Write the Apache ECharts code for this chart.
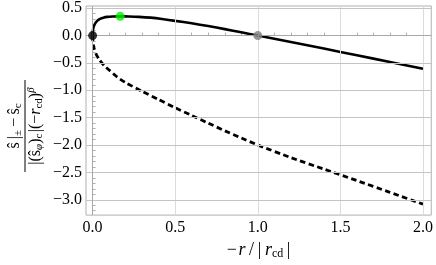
<!DOCTYPE html>
<html>
<head>
<meta charset="utf-8">
<script src="https://cdn.jsdelivr.net/npm/echarts@6/dist/echarts.min.js"></script>
<style>
html,body{margin:0;padding:0;background:#fff;}
#chart{width:436px;height:265px;}
</style>
</head>
<body>
<div id="chart"></div>
<script>
// ---- data ----
const upperX = [0, 0.0005, 0.002, 0.005, 0.01, 0.018, 0.03, 0.045, 0.065, 0.09, 0.12, 0.167, 0.22, 0.28, 0.35, 0.42, 0.5, 0.6, 0.7, 0.8, 0.9, 1.0, 1.2, 1.4, 1.6, 1.8, 2.0];
const upperY = [0, 0.06, 0.10, 0.145, 0.19, 0.235, 0.275, 0.305, 0.327, 0.341, 0.348, 0.351, 0.349, 0.342, 0.327, 0.303, 0.268, 0.224, 0.173, 0.118, 0.06, 0, -0.118, -0.238, -0.36, -0.482, -0.605];
const lowerX = [0, 0.002, 0.008, 0.02, 0.04, 0.07, 0.1, 0.15, 0.2, 0.3, 0.4, 0.5, 0.6, 0.7, 0.8, 0.9, 1.0, 1.2, 1.4, 1.6, 1.8, 2.0];
const lowerY = [0, -0.12, -0.22, -0.33, -0.44, -0.55, -0.63, -0.76, -0.86, -1.02, -1.17, -1.32, -1.46, -1.60, -1.74, -1.87, -2.0, -2.23, -2.44, -2.65, -2.865, -3.08];
const pointX = [0, 0.167, 1.0];
const pointY = [0, 0.351, 0];
const pointColors = ['#000000', '#00ee00', '#808080'];
const xTicks = [0, 0.5, 1.0, 1.5, 2.0];
const yTicks = [0.5, 0, -0.5, -1.0, -1.5, -2.0, -2.5, -3.0];
const xMinorTicks = [0.1, 0.2, 0.3, 0.4, 0.6, 0.7, 0.8, 0.9, 1.1, 1.2, 1.3, 1.4, 1.6, 1.7, 1.8, 1.9];
const yMinorTicks = [0.4, 0.3, 0.2, 0.1, -0.1, -0.2, -0.3, -0.4, -0.6, -0.7, -0.8, -0.9, -1.1, -1.2, -1.3, -1.4, -1.6, -1.7, -1.8, -1.9, -2.1, -2.2, -2.3, -2.4, -2.6, -2.7, -2.8, -2.9, -3.1, -3.2];

const SERIF = '"Liberation Serif", "DejaVu Serif", serif';
const fmt = v => (v < 0 ? '\u2212' : '') + Math.abs(v).toFixed(1);
const zip = (xs, ys) => xs.map((x, i) => [x, ys[i]]);

const xMin = -0.04, xMax = 2.05, yMin = -3.28, yMax = 0.54;
const frameColor = '#b0b0b0';

const chart = echarts.init(document.getElementById('chart'), null, {renderer: 'canvas'});

const mk = (fs, lh, va, style) => ({fontFamily: SERIF, fontSize: fs, color: '#000', lineHeight: lh, verticalAlign: va, fontStyle: style || 'normal'});
const xt = {n: mk(18, 20, 'middle'), i: mk(18, 20, 'middle', 'italic'), s: mk(12, 9, 'bottom')};
const yt = {n: mk(16, 19, 'middle'), i: mk(16, 19, 'middle', 'italic'), s: mk(11, 8, 'bottom'), si: mk(11, 8, 'bottom', 'italic'), p: mk(11, 8, 'top', 'italic')};

chart.setOption({
  animation: false,
  grid: {left: 86, right: 4, top: 6, bottom: 45.5, show: true, borderColor: frameColor, borderWidth: 1, backgroundColor: 'transparent'},
  xAxis: [{
    type: 'value', min: xMin, max: xMax, position: 'bottom',
    axisLine: {show: false},
    splitLine: {show: false},
    axisTick: {show: true, inside: true, length: 6, customValues: xTicks, lineStyle: {color: frameColor}},
    axisLabel: {show: true, customValues: xTicks, formatter: fmt, fontFamily: SERIF, fontSize: 16, color: '#000', margin: 5},
    name: '{n|\u2212}{n|\u200a}{i|r}{n|\u2009/\u2009|\u2009}{i|r}{s|cd}{n|\u2009|}',
    nameLocation: 'middle', nameGap: 16,
    nameTextStyle: {rich: xt}
  }, {
    type: 'value', min: xMin, max: xMax, position: 'bottom', gridIndex: 0,
    axisLine: {show: false}, splitLine: {show: false},
    axisTick: {show: true, inside: true, length: 3, customValues: xMinorTicks, lineStyle: {color: frameColor}},
    axisLabel: {show: false}
  }],
  yAxis: [{
    type: 'value', min: yMin, max: yMax, position: 'left',
    axisLine: {show: false}, splitLine: {show: false},
    axisTick: {show: true, inside: true, length: 6, customValues: yTicks, lineStyle: {color: frameColor}},
    axisLabel: {show: true, customValues: yTicks, formatter: fmt, fontFamily: SERIF, fontSize: 16, color: '#000', margin: 4}
  }, {
    type: 'value', min: yMin, max: yMax, position: 'left', gridIndex: 0,
    axisLine: {show: false}, splitLine: {show: false},
    axisTick: {show: true, inside: true, length: 3, customValues: yMinorTicks, lineStyle: {color: frameColor}},
    axisLabel: {show: false}
  }],
  graphic: [{
    type: 'group', x: 25, y: 126, rotation: Math.PI / 2,
    children: [
      {type: 'line', shape: {x1: -46, y1: 0, x2: 46, y2: 0}, style: {stroke: '#000', lineWidth: 1}},
      {type: 'text', style: {
        x: 0, y: -1, align: 'center', verticalAlign: 'bottom',
        text: '{n|\u015d\u2009|}{s|\u00b1}{n|\u2009\u2212\u2009\u015d}{s|c}',
        rich: yt
      }},
      {type: 'text', style: {
        x: 0, y: 1, align: 'center', verticalAlign: 'top',
        text: '{n||(\u015d}{si|\u03c6}{n|)}{s|c}{n|\u200a|(\u2212}{i|r}{s|cd}{n|)}{p|\u03b2}',
        rich: yt
      }}
    ]
  }],
  series: [
    {
      type: 'line', data: [], z: 1, silent: true,
      markLine: {
        silent: true, symbol: 'none', label: {show: false}, animation: false,
        lineStyle: {color: '#dcdcdc', width: 1, type: 'solid'},
        data: xTicks.map(v => ({xAxis: v}))
      }
    },
    {
      type: 'line', data: [], z: 1, silent: true,
      markLine: {
        silent: true, symbol: 'none', label: {show: false}, animation: false,
        lineStyle: {color: '#c4c4c4', width: 1, type: 'solid'},
        data: yTicks.map(v => ({yAxis: v}))
      }
    },
    {
      type: 'line', data: [], z: 2, silent: true,
      markLine: {
        silent: true, symbol: 'none', label: {show: false}, animation: false,
        lineStyle: {color: '#a8a8a8', width: 1, type: 'solid'},
        data: [{yAxis: 0}, {xAxis: 0}]
      }
    },
    {
      name: 'lower', type: 'line', data: zip(lowerX, lowerY), showSymbol: false, z: 3,
      smooth: 0.2,
      lineStyle: {color: '#000', width: 2.8, type: [5.5, 3.5]}
    },
    {
      name: 'upper', type: 'line', data: zip(upperX, upperY), showSymbol: false, z: 4,
      smooth: 0.2,
      lineStyle: {color: '#000', width: 2.6}
    },
    {
      name: 'points', type: 'scatter', z: 5, symbolSize: 9,
      data: pointX.map((x, i) => ({value: [x, pointY[i]], itemStyle: {color: pointColors[i]}}))
    }
  ]
});
</script>
</body>
</html>
